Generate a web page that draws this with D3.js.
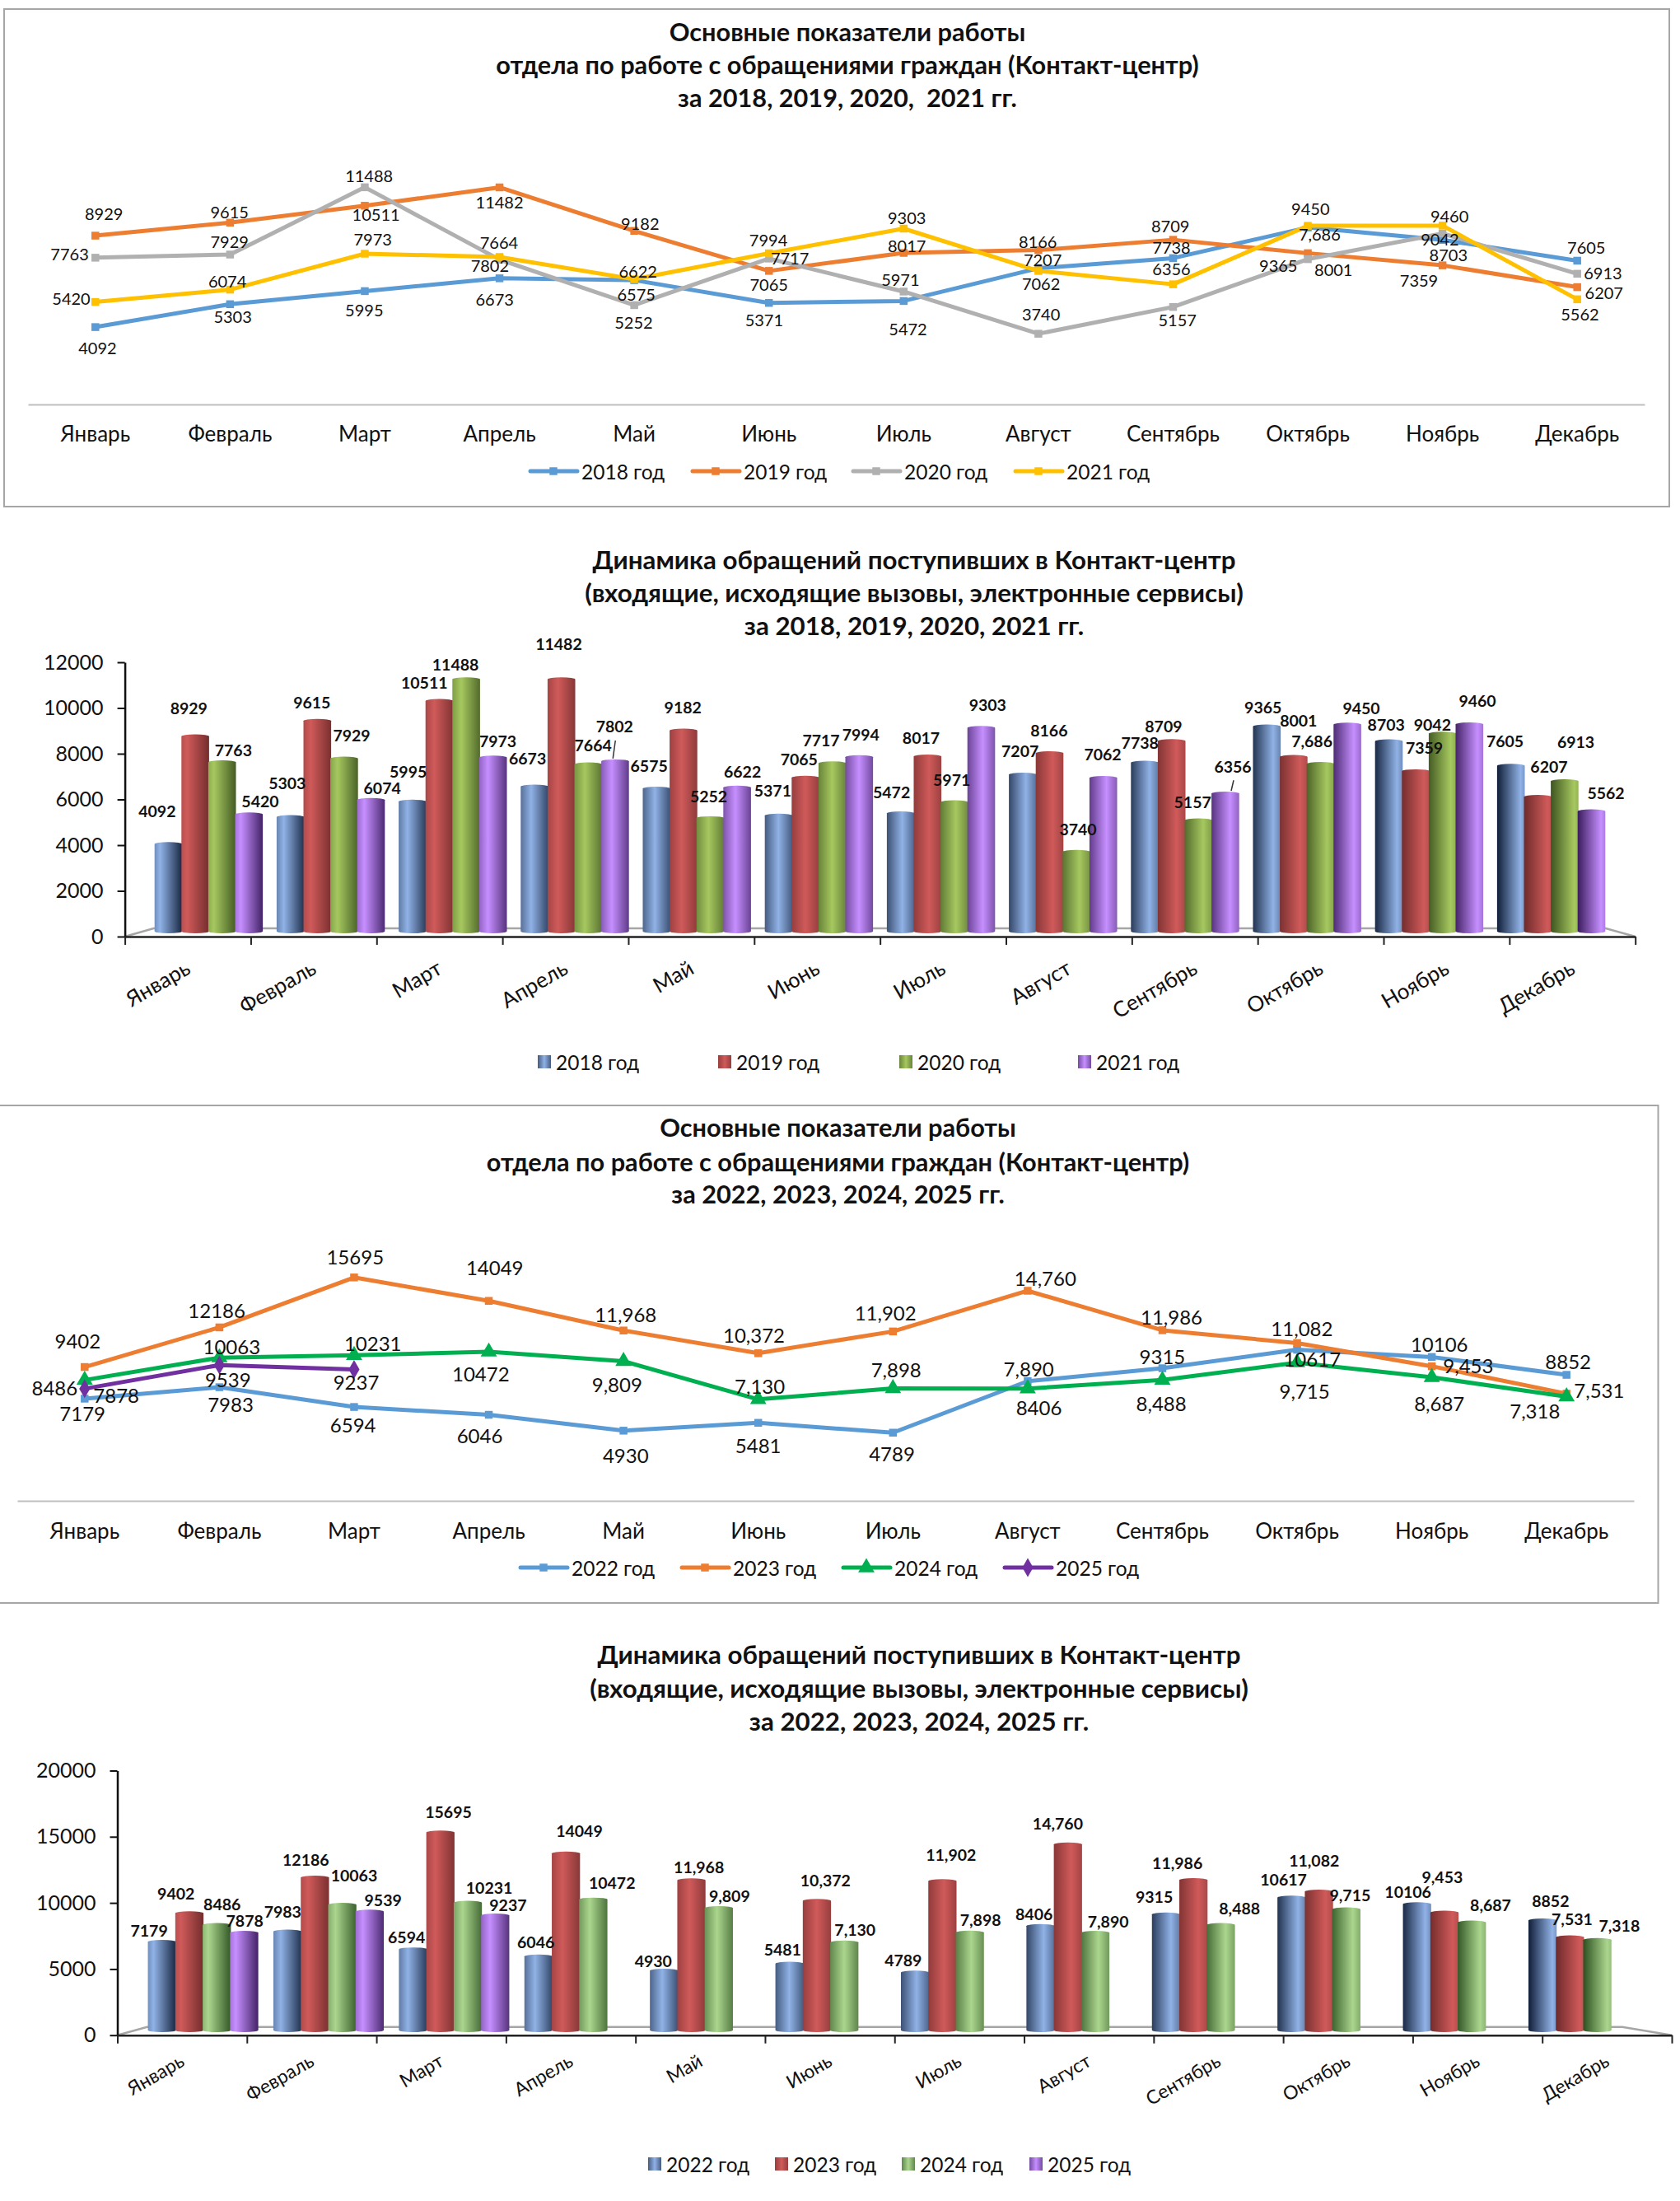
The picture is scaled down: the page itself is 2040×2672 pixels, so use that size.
<!DOCTYPE html>
<html lang="ru">
<head>
<meta charset="utf-8">
<title>Контакт-центр</title>
<script src="https://d3js.org/d3.v7.min.js"></script>
<style>
html,body{margin:0;padding:0;background:#fff}
svg{display:block}
text{font-family:Lato,"Noto Sans",sans-serif;fill:#111;white-space:pre}
</style>
</head>
<body>
<div id="chart"></div>
<script>
const months = ["Январь","Февраль","Март","Апрель","Май","Июнь","Июль","Август","Сентябрь","Октябрь","Ноябрь","Декабрь"];

const titleLine1 = ["Основные показатели работы","отдела по работе с обращениями граждан (Контакт-центр)","за 2018, 2019, 2020,  2021 гг."];
const titleBar1  = ["Динамика обращений поступивших в Контакт-центр","(входящие, исходящие вызовы, электронные сервисы)","за 2018, 2019, 2020, 2021 гг."];
const titleLine2 = ["Основные показатели работы","отдела по работе с обращениями граждан (Контакт-центр)","за 2022, 2023, 2024, 2025 гг."];
const titleBar2  = ["Динамика обращений поступивших в Контакт-центр","(входящие, исходящие вызовы, электронные сервисы)","за 2022, 2023, 2024, 2025 гг."];

const names1 = ["2018 год","2019 год","2020 год","2021 год"];
const names2 = ["2022 год","2023 год","2024 год","2025 год"];

const v2018 = [4092,5303,5995,6673,6575,5371,5472,7207,7738,9365,8703,7605];
const v2019 = [8929,9615,10511,11482,9182,7065,8017,8166,8709,8001,7359,6207];
const v2020 = [7763,7929,11488,7664,5252,7717,5971,3740,5157,7686,9042,6913];
const v2021 = [5420,6074,7973,7802,6622,7994,9303,7062,6356,9450,9460,5562];
const v2022 = [7179,7983,6594,6046,4930,5481,4789,8406,9315,10617,10106,8852];
const v2023 = [9402,12186,15695,14049,11968,10372,11902,14760,11986,11082,9453,7531];
const v2024 = [8486,10063,10231,10472,9809,7130,7898,7890,8488,9715,8687,7318];
const v2025 = [7878,9539,9237];

const commaValues = new Set([7686,11968,10372,11902,14760,11986,11082,9453,7531,9809,7130,7898,7890,8488,9715,8687,7318]);
const ticks1 = [0,2000,4000,6000,8000,10000,12000];
const ticks2 = [0,5000,10000,15000,20000];

/* data-label nudges per series, one [dx,dy] pair per month */
const nudgeL1 = [
 [[4,60],[5,36],[-1,55],[-9,61],[4,42],[-9,49],[8,82],[8,-27],[-3,-33],[-55,112],[11,44],[17,-40]],
 [[16,-66],[-1,-32],[21,25],[0,44],[11,-23],[0,40],[6,-22],[-1,-27],[-5,-42],[48,49],[-44,43],[50,17]],
 [[-48,-11],[-1,-39],[8,-36],[-1,-52],[-1,51],[39,-2],[-6,-37],[5,-59],[8,38],[22,-74],[-5,16],[48,-3]],
 [[-45,-12],[-5,-26],[15,-45],[-18,24],[7,-24],[-1,-41],[6,-33],[5,36],[-3,-47],[5,-51],[13,-30],[5,44]]
];
const nudgeB1 = [
 [[-21,-86],[-6,-91],[-8,-78],[-13,-73],[-14,-58],[-11,-64],[-17,-53],[-5,-60],[-9,-52],[-7,-48],[-5,-41],[-11,-65]],
 [[-12,-73],[-10,-48],[-28,-47],[-5,-94],[-1,-61],[-12,-46],[-12,-47],[-1,-60],[-15,-37],[9,-98],[16,-60],[21,-80]],
 [[21,-29],[14,-59],[-20,-37],[9,-48],[-3,-57],[-21,-60],[-5,-58],[3,-58],[-11,-45],[-16,-60],[-19,-21],[21,-105]],
 [[21,-33],[21,-27],[9,-40],[-1,-92],[10,-39],[3,-59],[12,-60],[-1,-60],[14,-71],[26,-42],[15,-61],[27,-45]]
];
const nudgeL2 = [
 [[-4,44],[21,52],[-2,53],[-17,64],[4,74],[0,68],[-2,65],[21,81],[0,-38],[28,28],[14,-39],[3,-41]],
 [[-13,-81],[-5,-52],[2,-65],[11,-103],[4,-51],[-8,-57],[-14,-57],[33,-38],[17,-41],[9,-45],[68,-4],[61,-10]],
 [[-56,23],[23,-34],[35,-38],[-15,66],[-12,72],[3,-40],[6,-59],[2,-60],[-2,72],[14,88],[14,80],[-59,44]],
 [[59,18],[16,45],[4,37]]
];
const nudgeB2 = [
 [[-24,-27],[-9,-50],[-12,-29],[-5,-34],[-20,-22],[-13,-34],[-22,-28],[-12,-29],[-22,-44],[-15,-44],[-17,-29],[15,-49]],
 [[-25,-50],[-17,-44],[15,-52],[25,-58],[14,-32],[16,-51],[16,-68],[-19,-53],[-30,-42],[-9,-81],[-4,-93],[4,-46]],
 [[10,-53],[22,-76],[40,-35],[35,-41],[20,-29],[20,-30],[20,-29],[24,-25],[35,-41],[7,-33],[35,-42],[41,-35]],
 [[1,-29],[25,-27],[24,-24]]
];

const lineColors1 = ["#5B9BD5","#ED7D31","#B0B0B0","#FFC000"];
const lineColors2 = ["#5B9BD5","#ED7D31","#00B050","#7030A0"];
const barPal1 = [["#90B2E6","#101E38"],["#D05A5A","#6E2A2A"],["#A6C85F","#3E5420"],["#C68FFF","#3B1C5E"]];
const barPal2 = [["#90B2E6","#101E38"],["#D05A5A","#6E2A2A"],["#ABD68E","#2C5020"],["#C68FFF","#3B1C5E"]];

const svg = d3.select("#chart").append("svg").attr("width",2040).attr("height",2672).attr("viewBox","0 0 2040 2672");
svg.append("rect").attr("width",2040).attr("height",2672).attr("fill","#fff");
const defs = svg.append("defs");
const fmt = v => commaValues.has(v) ? d3.format(",")(v) : String(v);
const markers = {square:d3.symbolSquare,triangle:d3.symbolTriangle,diamond:d3.symbolDiamond};

function title(lines,cx,ys,size){
  svg.append("g").selectAll("text").data(lines).join("text")
    .attr("x",cx).attr("y",(d,i)=>ys[i]).attr("text-anchor","middle").attr("dominant-baseline","central")
    .attr("font-size",size).attr("font-weight",700).text(d=>d);
}

function lineChart(c){
  if(c.frame) svg.append("rect").attr("x",c.frame[0]).attr("y",c.frame[1]).attr("width",c.frame[2]-c.frame[0]).attr("height",c.frame[3]-c.frame[1])
     .attr("fill","#fff").attr("stroke","#A6A6A6").attr("stroke-width",2);
  title(c.title,c.tx,c.ty,c.tsize);
  const x = d3.scaleBand().domain(months).range(c.xr);
  const y = d3.scaleLinear().domain(c.dom).range(c.yr);
  const ax = svg.append("g").attr("transform",`translate(0,${c.yr[0]})`)
    .call(d3.axisBottom(x).tickSize(0).tickPadding(c.catY-c.yr[0]));
  ax.select(".domain").attr("stroke","#BFBFBF").attr("stroke-width",2);
  ax.selectAll("text").attr("font-size",26).attr("dy",0).attr("dominant-baseline","central").attr("fill","#222");
  const gen = d3.line().x((d,i)=>x(months[i])+x.bandwidth()/2).y(d=>y(d));
  c.series.forEach((vals,s)=>{
    const g = svg.append("g");
    g.append("path").attr("d",gen(vals)).attr("fill","none").attr("stroke",c.colors[s]).attr("stroke-width",5).attr("stroke-linejoin","round");
    g.selectAll("path.m").data(vals).join("path").attr("class","m")
      .attr("transform",(d,i)=>`translate(${x(months[i])+x.bandwidth()/2},${y(d)})`)
      .attr("d",d3.symbol().type(markers[c.marks[s]]).size(c.msize[s])).attr("fill",c.colors[s]);
  });
  c.series.forEach((vals,s)=>{
    svg.append("g").selectAll("text").data(vals).join("text")
      .attr("x",(d,i)=>x(months[i])+x.bandwidth()/2+c.nudge[s][i][0]/1.537)
      .attr("y",(d,i)=>y(d)+c.nudge[s][i][1]/c.ky)
      .attr("text-anchor","middle").attr("dominant-baseline","central")
      .attr("font-size",c.lsize).text(fmt);
  });
  const lg = svg.append("g").selectAll("g").data(c.names).join("g");
  lg.append("line").attr("x1",(d,i)=>c.legendX[i]).attr("x2",(d,i)=>c.legendX[i]+57).attr("y1",c.legendY).attr("y2",c.legendY)
    .attr("stroke",(d,i)=>c.colors[i]).attr("stroke-width",5).attr("stroke-linecap","round");
  lg.append("path").attr("transform",(d,i)=>`translate(${c.legendX[i]+28},${c.legendY})`)
    .attr("d",(d,i)=>d3.symbol().type(markers[c.marks[i]]).size(c.msize[i])()).attr("fill",(d,i)=>c.colors[i]);
  lg.append("text").attr("x",(d,i)=>c.legendX[i]+62).attr("y",c.legendY).attr("dominant-baseline","central")
    .attr("font-size",24.5).attr("fill","#222").text(d=>d);
}

function barChart(c){
  title(c.title,c.tx,c.ty,c.tsize);
  const axisY = c.axisYr[0];
  const [x0,x1] = c.axisXr;
  svg.append("path").attr("d",`M${x0},${axisY}L${x0+c.floorL},${axisY-c.floorH}L${x1-c.floorR},${axisY-c.floorH}L${x1},${axisY}`)
    .attr("fill","none").attr("stroke","#A6A6A6").attr("stroke-width",2.5);
  const yAxisScale = d3.scaleLinear().domain(c.dom).range(c.axisYr);
  const yBar = d3.scaleLinear().domain(c.dom).range(c.barYr);
  const gy = svg.append("g").attr("transform",`translate(${x0},0)`)
    .call(d3.axisLeft(yAxisScale).tickValues(c.ticks).tickFormat(d3.format("d")).tickSize(9).tickSizeOuter(0).tickPadding(17));
  gy.select(".domain").attr("stroke","#111").attr("stroke-width",2.5);
  gy.selectAll("line").attr("stroke","#111").attr("stroke-width",2);
  gy.selectAll("text").attr("font-size",25).attr("fill","#111");
  const xT = d3.scaleLinear().domain([0,12]).range(c.axisXr);
  const gx = svg.append("g").attr("transform",`translate(0,${axisY})`)
    .call(d3.axisBottom(xT).ticks(12).tickFormat("").tickSize(10).tickSizeOuter(0));
  gx.select(".domain").attr("stroke","#222").attr("stroke-width",2.5);
  gx.selectAll("line").attr("stroke","#222").attr("stroke-width",2);
  const xCat = d3.scaleBand().domain(months).range(c.axisXr);
  svg.append("g").selectAll("text").data(months).join("text")
    .attr("transform",d=>`translate(${xCat(d)+xCat.bandwidth()/2},${c.catY}) rotate(-30)`)
    .attr("text-anchor","end").attr("dominant-baseline","central").attr("font-size",c.catSize).attr("fill","#222").text(d=>d);

  const x = d3.scaleBand().domain(months).range(c.barXr).paddingInner(c.pad).paddingOuter(c.pad/2);
  const xs = d3.scaleBand().domain(d3.range(4)).range([0,x.bandwidth()]);
  const tAt = d3.scaleLinear().domain([0,11]).range([0.2,0.85]);
  function gradient(id,pal,t){
    const mix = d3.interpolateRgb(pal[0],pal[1]);
    const g = defs.append("linearGradient").attr("id",id);
    g.append("stop").attr("offset",0).attr("stop-color",mix(Math.min(1,t/0.85)));
    g.append("stop").attr("offset",t).attr("stop-color",pal[0]);
    g.append("stop").attr("offset",1).attr("stop-color",mix(Math.min(1,(1-t)/0.85)));
    return `url(#${id})`;
  }
  c.series.forEach((vals,s)=>{
    const g = svg.append("g");
    g.selectAll("rect").data(vals).join("rect")
      .attr("x",(d,i)=>x(months[i])+xs(s)-0.5).attr("width",xs.bandwidth()+1)
      .attr("y",d=>yBar(d)).attr("height",d=>yBar(0)-yBar(d))
      .attr("rx",xs.bandwidth()/2).attr("ry",2.5)
      .attr("fill",(d,i)=>gradient(`${c.id}-${s}-${i}`,c.pal[s],tAt(i)));
  });
  c.series.forEach((vals,s)=>{
    svg.append("g").selectAll("text").data(vals).join("text")
      .attr("x",(d,i)=>x(months[i])+xs(s)+xs.bandwidth()/2+c.nudge[s][i][0]/1.537)
      .attr("y",(d,i)=>yBar(d)+c.nudge[s][i][1]/c.ky)
      .attr("text-anchor","middle").attr("dominant-baseline","central")
      .attr("font-size",c.lsize).attr("font-weight",700).text(fmt);
  });
  (c.leaders||[]).forEach(([s,i])=>{
    const v = c.series[s][i];
    const lx = x(months[i])+xs(s)+xs.bandwidth()/2+c.nudge[s][i][0]/1.537;
    const ly = yBar(v)+c.nudge[s][i][1]/c.ky;
    svg.append("line").attr("x1",lx+1).attr("y1",ly+17).attr("x2",lx-2).attr("y2",yBar(v)-1).attr("stroke","#333").attr("stroke-width",1.5);
  });
  const lg = svg.append("g").selectAll("g").data(c.names).join("g");
  lg.append("rect").attr("x",(d,i)=>c.legendX[i]).attr("y",c.legendY-8).attr("width",16).attr("height",16)
    .attr("fill",(d,i)=>gradient(`${c.id}-lg-${i}`,c.pal[i],0.5));
  lg.append("text").attr("x",(d,i)=>c.legendX[i]+22).attr("y",c.legendY).attr("dominant-baseline","central")
    .attr("font-size",24.5).attr("fill","#222").text(d=>d);
}

lineChart({
  frame:[5,11,2027,615], title:titleLine1, tx:1029, ty:[38.5,78.5,118.5], tsize:30.7,
  xr:[34,1997], yr:[491,169.7], dom:[0,14000], catY:526, ky:2.45, lsize:20,
  series:[v2018,v2019,v2020,v2021], colors:lineColors1, marks:["square","square","square","square"], msize:[90,90,90,90],
  nudge:nudgeL1, names:names1, legendX:[644,841,1036,1233], legendY:572
});
barChart({
  id:"b1", title:titleBar1, tx:1110, ty:[678.5,718.5,758.5], tsize:31.3,
  axisXr:[151.6,1985.7], axisYr:[1137,804], barXr:[179.3,1957.7], barYr:[1133,808.3], pad:0.12, dom:[0,12000], ticks:ticks1,
  floorL:35, floorR:36, floorH:10, catY:1172, catSize:26, ky:2.306, lsize:19.5,
  series:[v2018,v2019,v2020,v2021], pal:barPal1, nudge:nudgeB1, leaders:[[3,3],[3,8]],
  names:names1, legendX:[653,872,1092,1309], legendY:1289
});
lineChart({
  frame:[-5,1342,2013.5,1946], title:titleLine2, tx:1017.5, ty:[1368.5,1410.5,1449.5], tsize:30.7,
  xr:[21,1984], yr:[1822,1511], dom:[0,18000], catY:1858, ky:2.529, lsize:24,
  series:[v2022,v2023,v2024,v2025], colors:lineColors2, marks:["square","square","triangle","diamond"], msize:[90,90,170,150],
  nudge:nudgeL2, names:names2, legendX:[632,828,1024,1220], legendY:1903
});
barChart({
  id:"b2", title:titleBar2, tx:1116, ty:[2008,2049,2088.5], tsize:31.3,
  axisXr:[142.5,2030], axisYr:[2470.7,2149.5], barXr:[170.4,1999.2], barYr:[2467,2155], pad:0.127, dom:[0,20000], ticks:ticks2,
  floorL:36, floorR:60, floorH:10, catY:2499, catSize:23, ky:2.266, lsize:19.5,
  series:[v2022,v2023,v2024,v2025], pal:barPal2, nudge:nudgeB2,
  names:names2, legendX:[787,941,1095,1250], legendY:2627
});
</script>
</body>
</html>
